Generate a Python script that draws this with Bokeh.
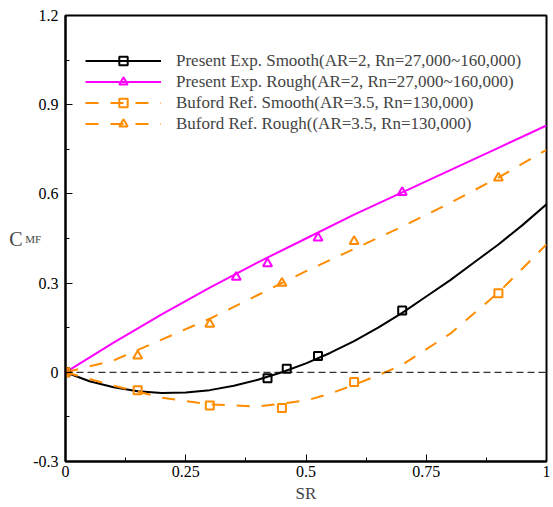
import numpy as np
from bokeh.plotting import figure
from bokeh.models import FixedTicker, Legend, LegendItem, LinearAxis, Span
from bokeh.embed import file_html
from bokeh.resources import INLINE

# Present Exp. Smooth: fitted curve and measured points
ps_curve_x = [0, 0.05, 0.1, 0.15, 0.2, 0.25, 0.3, 0.35, 0.4, 0.45, 0.5, 0.55, 0.6, 0.65, 0.7, 0.75, 0.8, 0.85, 0.9, 0.95, 1.0]
ps_curve_y = [0, -0.03, -0.05, -0.064, -0.07, -0.068, -0.06, -0.045, -0.025, 0.0, 0.03, 0.065, 0.105, 0.15, 0.2, 0.255, 0.31, 0.37, 0.43, 0.495, 0.565]
ps_pts_x = [0, 0.42, 0.46, 0.525, 0.70]
ps_pts_y = [0, -0.02, 0.012, 0.055, 0.208]

# Present Exp. Rough
pr_curve_x = [0, 0.1, 0.2, 0.3, 0.4, 0.5, 0.6, 0.7, 0.8, 0.9, 1.0]
pr_curve_y = [0, 0.1, 0.195, 0.285, 0.37, 0.45, 0.53, 0.605, 0.68, 0.755, 0.83]
pr_pts_x = [0, 0.355, 0.42, 0.525, 0.70]
pr_pts_y = [0, 0.32, 0.365, 0.452, 0.605]

# Buford Ref. Smooth
bs_curve_x = [0, 0.1, 0.2, 0.3, 0.4, 0.5, 0.55, 0.6, 0.65, 0.7, 0.8, 0.9, 1.0]
bs_curve_y = [0, -0.045, -0.085, -0.108, -0.115, -0.095, -0.072, -0.042, -0.01, 0.025, 0.13, 0.268, 0.43]
bs_pts_x = [0, 0.15, 0.30, 0.45, 0.60, 0.90]
bs_pts_y = [0, -0.06, -0.112, -0.12, -0.033, 0.266]

# Buford Ref. Rough
br_curve_x = [0, 0.1, 0.2, 0.3, 0.4, 0.5, 0.6, 0.7, 0.8, 0.9, 1.0]
br_curve_y = [0, 0.04, 0.11, 0.18, 0.26, 0.34, 0.415, 0.49, 0.57, 0.655, 0.748]
br_pts_x = [0, 0.15, 0.30, 0.45, 0.60, 0.90]
br_pts_y = [0, 0.055, 0.162, 0.30, 0.44, 0.654]

x_ticks = [0, 0.25, 0.5, 0.75, 1.0]
x_tick_labels = ["0", "0.25", "0.5", "0.75", "1"]
y_ticks = [-0.3, 0, 0.3, 0.6, 0.9, 1.2]
y_tick_labels = ["-0.3", "0", "0.3", "0.6", "0.9", "1.2"]

legend_labels = [
    "Present Exp. Smooth(AR=2, Rn=27,000~160,000)",
    "Present Exp. Rough(AR=2, Rn=27,000~160,000)",
    "Buford Ref. Smooth(AR=3.5, Rn=130,000)",
    "Buford Ref. Rough((AR=3.5, Rn=130,000)",
]

FONT = "Liberation Serif"
ORANGE = "#FF8C00"
MAGENTA = "#FF00FF"

p = figure(width=553, height=505, x_range=(0, 1), y_range=(-0.3, 1.2),
           output_backend="svg", toolbar_location=None,
           min_border_left=65, min_border_right=7, min_border_top=15, min_border_bottom=42)
p.grid.visible = False
p.outline_line_color = "black"
p.outline_line_width = 2
p.background_fill_color = "white"

p.xaxis.ticker = FixedTicker(ticks=x_ticks, minor_ticks=[0.125, 0.375, 0.625, 0.875])
p.yaxis.ticker = FixedTicker(ticks=y_ticks, minor_ticks=[-0.15, 0.15, 0.45, 0.75, 1.05])
p.xaxis.major_label_overrides = {t: l for t, l in zip(x_ticks, x_tick_labels)}
p.yaxis.major_label_overrides = {t: l for t, l in zip(y_ticks, y_tick_labels)}
for ax in (p.xaxis[0], p.yaxis[0]):
    ax.major_tick_in = 7
    ax.major_tick_out = 0
    ax.minor_tick_in = 4
    ax.minor_tick_out = 0
    ax.axis_line_width = 2
    ax.major_label_text_font = FONT
    ax.major_label_text_font_size = "16px"
    ax.major_label_text_color = "black"
    ax.axis_label_text_font = FONT
    ax.axis_label_text_font_style = "normal"
p.xaxis.axis_label_text_font_size = "17px"
p.yaxis.major_label_standoff = 7
p.xaxis.major_label_standoff = 4
p.xaxis.axis_label = "SR"
p.xaxis.axis_label_standoff = 4

# subscript "MF" as the label of the main y axis
p.yaxis.axis_label = "MF"
p.yaxis.axis_label_orientation = "horizontal"
p.yaxis.axis_label_text_font_size = "11px"
p.yaxis.axis_label_standoff = -11

# main letter "C" as the label of an empty outer axis
c_axis = LinearAxis(ticker=FixedTicker(ticks=[]), axis_line_color=None,
                    major_tick_line_color=None, minor_tick_line_color=None,
                    axis_label="C", axis_label_orientation="horizontal",
                    axis_label_text_font=FONT,
                    axis_label_text_font_style="normal", axis_label_text_font_size="20px",
                    axis_label_standoff=0)
p.add_layout(c_axis, "left")

zero = Span(location=0, dimension="width", line_color="black", line_dash="7 4", line_width=1)
p.add_layout(zero)

# curves
l1 = p.line(ps_curve_x, ps_curve_y, line_color="black", line_width=2)
l2 = p.line(pr_curve_x, pr_curve_y, line_color=MAGENTA, line_width=2)
l3 = p.line(bs_curve_x, bs_curve_y, line_color=ORANGE, line_width=2, line_dash="13 12")
l4 = p.line(br_curve_x, br_curve_y, line_color=ORANGE, line_width=2, line_dash="13 12")

s1 = p.scatter(ps_pts_x, ps_pts_y, marker="square", size=8, fill_color=None, line_color="black", line_width=2)
s2 = p.scatter(pr_pts_x, pr_pts_y, marker="triangle", size=9, fill_color=None, line_color=MAGENTA, line_width=2)
s3 = p.scatter(bs_pts_x, bs_pts_y, marker="square", size=8, fill_color=None, line_color=ORANGE, line_width=2)
s4 = p.scatter(br_pts_x, br_pts_y, marker="triangle", size=9, fill_color=None, line_color=ORANGE, line_width=2)

legend = Legend(items=[
    LegendItem(label=legend_labels[0], renderers=[l1, s1]),
    LegendItem(label=legend_labels[1], renderers=[l2, s2]),
    LegendItem(label=legend_labels[2], renderers=[l3, s3]),
    LegendItem(label=legend_labels[3], renderers=[l4, s4]),
], location=(20, 327))
legend.border_line_color = None
legend.background_fill_alpha = 0
legend.label_text_font = FONT
legend.label_text_font_size = "17px"
legend.glyph_width = 76
legend.glyph_height = 21
legend.label_height = 21
legend.spacing = 0
legend.padding = 0
legend.margin = 0
legend.label_standoff = 15
p.add_layout(legend)

open("out.html", "w").write(file_html(p, INLINE))
